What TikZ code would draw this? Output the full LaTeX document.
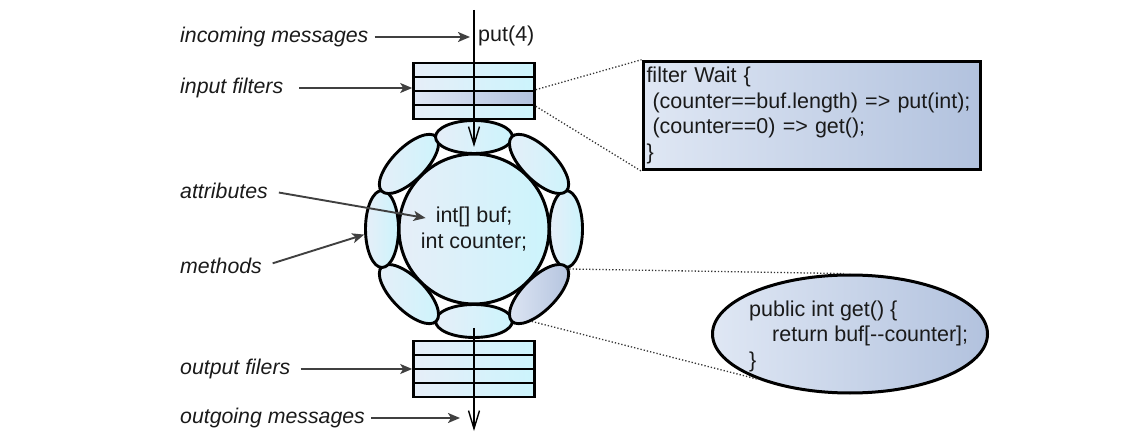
\documentclass[tikz,border=0pt]{standalone}
\usepackage{fontspec}
\newfontfamily\dfont{Liberation Sans}
\usetikzlibrary{arrows.meta,shapes.geometric}
\definecolor{ink}{HTML}{1A1A1A}
\definecolor{arrowgray}{HTML}{404040}
\definecolor{palecyan}{HTML}{CCF4FC}
\definecolor{palelav}{HTML}{E6EEF8}
\definecolor{steel}{HTML}{B2C2DE}
\definecolor{palesteel}{HTML}{DFE7F4}
\tikzset{
  lbl/.style={font=\dfont\itshape\fontsize{21.3}{24}\selectfont,text=ink,anchor=west,inner sep=2pt},
  code/.style={font=\dfont\fontsize{21.5}{25.5}\selectfont,text=ink,align=left,inner sep=1pt},
  filterrow/.style={draw=black,line width=2.6pt,left color=palelav,right color=palecyan,minimum width=121pt,minimum height=14pt,inner sep=0pt},
  darkrow/.style={filterrow,left color=palesteel,right color=steel},
  part/.style={ellipse,draw=black,line width=2.9pt,left color=palelav,right color=palecyan,minimum width=33pt,minimum height=77pt,inner sep=0pt},
  darkpart/.style={part,left color=palesteel,right color=steel},
  core/.style={circle,draw=black,line width=3pt,left color=palelav,right color=palecyan,minimum size=150pt,inner sep=0pt},
  codebox/.style={draw=black,line width=3pt,left color=palesteel,right color=steel},
  pointer/.style={-{Stealth[length=12pt,width=10pt,inset=3pt]},draw=arrowgray,line width=1.9pt,shorten <=4pt},
  flow/.style={-{Straight Barb[length=18pt,width=11pt]},draw=black,line width=1.4pt},
  link/.style={draw=black!80,dotted,line width=1.3pt}
}
\begin{document}
\begin{tikzpicture}[x=1pt,y=-1pt]
\path[use as bounding box] (0,0) rectangle (1145,435);
\coordinate (c) at (474,229); \coordinate (src) at (474,10); \coordinate (sink) at (474,431);
\foreach \a in {0,90,135,180,225,270,315} \node[part,rotate=-\a] (m\a) at ([shift={(\a:92)}]c) {};
\node[darkpart,rotate=-45] (m45) at ([shift={(45:92)}]c) {};
\node[core] (obj) at (c) {};
\node[code,align=center] (attr) at (c) {int[] buf;\\int counter;};

\foreach \i/\s in {1/filterrow,2/filterrow,3/darkrow,4/filterrow} \node[\s] (in\i) at (474,{56+14*\i}) {};
\foreach \i in {1,...,4} \node[filterrow] (out\i) at (474,{334+14*\i}) {};

\node[codebox,code,minimum width=337pt,minimum height=105pt,text width=330pt,inner xsep=2pt,inner ysep=6pt] (wait) at (811.5,115.5)
  {filter Wait \{\\\hspace*{6pt}(counter==buf.length) => put(int);\\\hspace*{6pt}(counter==0) => get();\\\}};
\node[codebox,ellipse,minimum width=275pt,minimum height=118pt,inner sep=0pt] (getm) at (850,334) {};
\node[code,anchor=west] (getcode) at (748,336) {public int get() \{\\\hspace*{23pt}return buf[-\kern0pt-counter];\\\}};

\draw[link] (in3.north east) -- (wait.north west); \draw[link] (in3.south east) -- (wait.south west);
\draw[link] (m0.south) -- (getm.96); \draw[link] (m45.-60) -- (getm.206);

\draw[flow] (src) -- ([yshift=-10pt]m270.center);
\draw[flow] ([yshift=-7pt]m90.center) -- (sink);
\node[code,anchor=west] (put) at (477,36) {put(4)};

\node[lbl] (inc) at (178,37) {incoming messages};
\node[lbl] (inf) at (178,88) {input filters};
\node[lbl] (atl) at (178,191) {attributes};
\node[lbl] (mtl) at (178,266) {methods};
\node[lbl] (outf) at (178,369) {output filers};
\node[lbl] (outg) at (178,418) {outgoing messages};
\draw[pointer,shorten >=4pt] (inc.east) -- (inc -| src);
\draw[pointer,shorten <=14pt] (inf.east) -- (inf -| in1.west);
\draw[pointer,shorten <=9pt] (atl.east) -- ([shift={(6,-11)}]attr.west);
\draw[pointer,shorten <=9pt] (mtl.east) -- (m180);
\draw[pointer,shorten <=8pt] (outf.east) -- (outf -| out1.west);
\draw[pointer,shorten >=14pt] (outg.east) -- (outg -| sink);
\end{tikzpicture}
\end{document}
